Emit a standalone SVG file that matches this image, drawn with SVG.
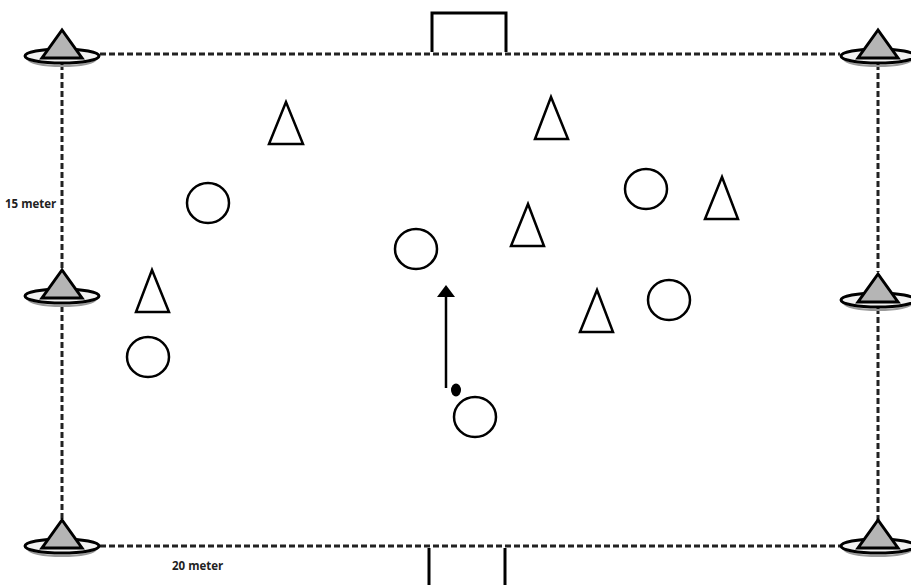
<svg xmlns="http://www.w3.org/2000/svg" width="911" height="585" viewBox="0 0 911 585">
<defs>
<style>
.dash{stroke:#222;stroke-width:3;stroke-dasharray:6 3;fill:none}
.player{fill:none;stroke:#000;stroke-width:2.5}
.cone{fill:#fff;stroke:#000;stroke-width:2.5}
.cbase{fill:#f2f2f2;stroke:#000;stroke-width:3}
.cshadow{fill:none;stroke:#999;stroke-width:2}
.ctri{fill:#b5b5b5;stroke:#000;stroke-width:3;stroke-linejoin:miter}
.goal{fill:none;stroke:#000;stroke-width:3}
.lbl{font-family:"Open Sans","Liberation Sans",sans-serif;font-weight:bold;font-size:11.5px;fill:#222}
</style>
<g id="markercone">
<ellipse class="cshadow" cx="0" cy="3" rx="34" ry="7"/>
<ellipse class="cbase" cx="0" cy="0" rx="37" ry="7"/>
<polygon class="ctri" points="0,-26 -20,2 20,2"/>
</g>
</defs>
<rect width="911" height="585" fill="#fff"/>
<g id="connectors">
<line class="dash" x1="100" y1="54" x2="840" y2="54"/>
<line class="dash" x1="100" y1="546" x2="840" y2="546"/>
<line class="dash" x1="62" y1="64" x2="62" y2="270"/>
<line class="dash" x1="62" y1="306" x2="62" y2="522"/>
<line class="dash" x1="878" y1="64" x2="878" y2="272"/>
<line class="dash" x1="878" y1="308" x2="878" y2="522"/>
<line x1="446" y1="388" x2="446" y2="296" stroke="#000" stroke-width="2.5"/>
<polygon points="446,285 437,297 455,297" fill="#000"/>
</g>
<g id="goal-top"><polyline class="goal" points="432,52 432,13 506,13 506,52"/></g>
<g id="goal-bottom">
<line class="goal" x1="429" y1="548" x2="429" y2="585"/>
<line class="goal" x1="505" y1="548" x2="505" y2="585"/>
</g>
<g id="cone-tl"><use href="#markercone" x="62" y="56"/></g>
<g id="cone-tr"><use href="#markercone" x="878" y="56"/></g>
<g id="cone-ml"><use href="#markercone" x="62" y="296"/></g>
<g id="cone-mr"><use href="#markercone" x="878" y="300"/></g>
<g id="cone-bl"><use href="#markercone" x="62" y="546"/></g>
<g id="cone-br"><use href="#markercone" x="878" y="546"/></g>
<g id="t1"><polygon class="cone" points="286,102 269,144 303,144"/></g>
<g id="t2"><polygon class="cone" points="551,97 535,139 568,139"/></g>
<g id="t3"><polygon class="cone" points="528,204 511,246 544,246"/></g>
<g id="t4"><polygon class="cone" points="722,177 705,219 738,219"/></g>
<g id="t5"><polygon class="cone" points="152,270 136,312 169,312"/></g>
<g id="t6"><polygon class="cone" points="597,290 580,332 613,332"/></g>
<g id="c1"><ellipse class="player" cx="208" cy="203" rx="21" ry="20"/></g>
<g id="c2"><ellipse class="player" cx="416" cy="249" rx="21" ry="20"/></g>
<g id="c3"><ellipse class="player" cx="646" cy="189" rx="21" ry="20"/></g>
<g id="c4"><ellipse class="player" cx="669" cy="300" rx="21" ry="20"/></g>
<g id="c5"><ellipse class="player" cx="148" cy="357" rx="21" ry="20"/></g>
<g id="c6"><ellipse class="player" cx="475" cy="417" rx="21" ry="20"/></g>
<g id="ball"><ellipse cx="456" cy="390" rx="5" ry="6.5" fill="#000"/></g>
<g id="labels">
<text class="lbl" x="5" y="208">15 meter</text>
<text class="lbl" x="172" y="570">20 meter</text>
</g>
</svg>
